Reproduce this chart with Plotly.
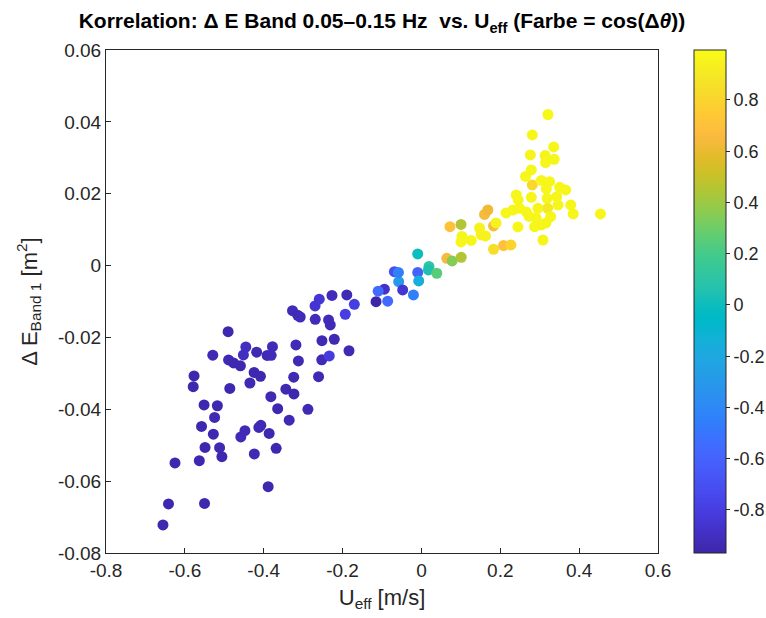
import plotly.graph_objects as go

# U_eff [m/s]
u_eff = [
    -0.6555, -0.6415, -0.5501, -0.625, -0.5633, -0.5488, -0.5119, -0.5061, -0.5277, -0.5577,
    -0.5246, -0.5513, -0.5175, -0.5767, -0.5788, -0.5292, -0.4903, -0.4891, -0.4764, -0.4591,
    -0.4860, -0.4454, -0.4515, -0.4179, -0.4243, -0.4083, -0.4350, -0.3887, -0.4238, -0.4581,
    -0.4477, -0.4123, -0.4073, -0.3862, -0.3684, -0.3819, -0.3646, -0.3354, -0.3913, -0.3778,
    -0.3811, -0.3183, -0.3120, -0.3239, -0.3438, -0.3234, -0.2879, -0.3270, -0.3138, -0.3074,
    -0.2693, -0.2609, -0.2528, -0.2523, -0.2210, -0.2337, -0.1837, -0.2355, -0.2312, -0.2698,
    -0.2591, -0.2269, -0.1893, -0.1702, -0.1931, -0.1151, -0.0940, -0.1098, -0.0856, -0.0577,
    -0.0475, -0.0203, -0.0686, -0.0584, -0.0094, -0.0069, -0.0094, 0.0191, 0.0178, 0.0389,
    0.0643, 0.0780, 0.1009, 0.0724, 0.1004,
    0.1029, 0.1004, 0.1263, 0.1474, 0.1517, 0.1626, 0.1829, 0.1893, 0.1601, 0.1684,
    0.1829, 0.2083, 0.2269, 0.2147, 0.2320, 0.2447, 0.2406, 0.2452, 0.2490, 0.2660,
    0.2731, 0.2909, 0.2787, 0.2812, 0.2642, 0.2787, 0.2762, 0.2812, 0.3209, 0.3354,
    0.3138, 0.3366, 0.3150, 0.3041, 0.3252, 0.3168, 0.3506, 0.3659, 0.3189, 0.3430,
    0.3463, 0.3786, 0.3201, 0.3849, 0.3277, 0.3041, 0.3158, 0.3082, 0.4540, 0.2871,
    0.2955,
]

# Delta E Band 1 [m^2]
delta_e = [
    -0.07220, -0.06635, -0.06621, -0.05494, -0.05430, -0.05063, -0.05068, -0.05319, -0.04692, -0.04478,
    -0.04228, -0.03880, -0.03902, -0.03073, -0.03370, -0.02494, -0.01840, -0.02627, -0.02711, -0.02789,
    -0.03421, -0.02266, -0.02488, -0.02410, -0.02975, -0.03081, -0.03268, -0.06154, -0.05244, -0.04770,
    -0.04595, -0.04506, -0.04445, -0.04673, -0.05085, -0.03649, -0.03983, -0.04303, -0.02502, -0.02257,
    -0.02497, -0.02210, -0.02655, -0.03106, -0.03440, -0.03574, -0.04000, -0.01255, -0.01383, -0.01431,
    -0.01495, -0.03092, -0.02622, -0.02090, -0.02051, -0.02516, -0.02371, -0.01514, -0.01653, -0.01124,
    -0.00935, -0.00832, -0.00818, -0.01077, -0.01355, -0.01005, -0.00657, -0.00712, -0.00991, -0.00448,
    -0.00679, -0.00818, -0.00170, -0.00192, -0.00192, -0.00429, 0.00323, -0.00025, -0.00122, -0.00214,
    0.00203, 0.00128, 0.00231, 0.01083, 0.01144,
    0.00810, 0.00657, 0.00699, 0.01047, 0.00852, 0.00824, 0.01102, 0.01186, 0.01422, 0.01547,
    0.00454, 0.00559, 0.00573, 0.01464, 0.01547, 0.01074, 0.01965, 0.01826, 0.01595, 0.01492,
    0.01367, 0.01325, 0.01901, 0.02243, 0.02480, 0.02661, 0.03078, 0.03635, 0.04205, 0.03301,
    0.03064, 0.02959, 0.02869, 0.02369, 0.02335, 0.02137, 0.02179, 0.02104, 0.01873, 0.01918,
    0.01687, 0.01687, 0.01595, 0.01436, 0.01361, 0.01130, 0.01186, 0.00712, 0.01436, 0.01083,
    0.01595,
]

# cos(Delta theta)
cos_dtheta = [
    -0.95, -0.95, -0.95, -0.95, -0.95, -0.95, -0.94, -0.95, -0.95, -0.95,
    -0.94, -0.95, -0.95, -0.95, -0.95, -0.94, -0.95, -0.94, -0.95, -0.95,
    -0.95, -0.90, -0.90, -0.94, -0.95, -0.95, -0.94, -0.95, -0.94, -0.93,
    -0.93, -0.94, -0.93, -0.95, -0.95, -0.94, -0.95, -0.94, -0.93, -0.93,
    -0.92, -0.93, -0.94, -0.94, -0.94, -0.95, -0.94, -0.92, -0.93, -0.92,
    -0.92, -0.94, -0.93, -0.94, -0.94, -0.82, -0.93, -0.92, -0.93, -0.86,
    -0.85, -0.92, -0.93, -0.80, -0.80, -0.97, -0.88, -0.55, -0.55, -0.30,
    -0.85, -0.45, -0.72, -0.45, -0.60, -0.15, 0.00, 0.10, 0.05, 0.25,
    0.65, 0.35, 0.45, 0.70, 0.45,
    0.97, 0.97, 0.97, 0.95, 0.95, 0.95, 0.65, 0.95, 0.65, 0.62,
    0.85, 0.70, 0.80, 0.97, 0.97, 0.97, 0.97, 0.97, 0.97, 0.97,
    0.97, 0.97, 0.97, 0.82, 0.97, 0.97, 0.96, 0.97, 0.98, 0.97,
    0.96, 0.97, 0.97, 0.97, 0.97, 0.97, 0.97, 0.97, 0.97, 0.97,
    0.97, 0.97, 0.90, 0.97, 0.97, 0.97, 0.97, 0.96, 0.97, 0.97,
    0.97,
]

x_ticks = [-0.8, -0.6, -0.4, -0.2, 0, 0.2, 0.4, 0.6]
x_tick_labels = ["-0.8", "-0.6", "-0.4", "-0.2", "0", "0.2", "0.4", "0.6"]
y_ticks = [-0.08, -0.06, -0.04, -0.02, 0, 0.02, 0.04, 0.06]
y_tick_labels = ["-0.08", "-0.06", "-0.04", "-0.02", "0", "0.02", "0.04", "0.06"]
c_ticks = [-0.8, -0.6, -0.4, -0.2, 0, 0.2, 0.4, 0.6, 0.8]
c_tick_labels = ["-0.8", "-0.6", "-0.4", "-0.2", "0", "0.2", "0.4", "0.6", "0.8"]
c_range = [-0.968, 0.995]

parula_rgb = [
    (0.2422, 0.1504, 0.6603), (0.2504, 0.1650, 0.7076), (0.2578, 0.1818, 0.7511), (0.2647, 0.1978, 0.7952),
    (0.2706, 0.2147, 0.8364), (0.2751, 0.2342, 0.8710), (0.2783, 0.2559, 0.8991), (0.2803, 0.2782, 0.9221),
    (0.2813, 0.3006, 0.9414), (0.2810, 0.3228, 0.9579), (0.2795, 0.3447, 0.9717), (0.2760, 0.3667, 0.9829),
    (0.2699, 0.3892, 0.9906), (0.2602, 0.4123, 0.9952), (0.2440, 0.4358, 0.9988), (0.2206, 0.4603, 0.9973),
    (0.1963, 0.4847, 0.9892), (0.1834, 0.5074, 0.9798), (0.1786, 0.5289, 0.9682), (0.1764, 0.5499, 0.9520),
    (0.1687, 0.5703, 0.9359), (0.1540, 0.5902, 0.9218), (0.1460, 0.6091, 0.9079), (0.1380, 0.6276, 0.8973),
    (0.1248, 0.6459, 0.8883), (0.1113, 0.6635, 0.8763), (0.0952, 0.6798, 0.8598), (0.0689, 0.6948, 0.8394),
    (0.0297, 0.7082, 0.8163), (0.0036, 0.7203, 0.7917), (0.0067, 0.7312, 0.7660), (0.0433, 0.7411, 0.7394),
    (0.0964, 0.7500, 0.7120), (0.1408, 0.7584, 0.6842), (0.1717, 0.7670, 0.6554), (0.1938, 0.7758, 0.6251),
    (0.2161, 0.7843, 0.5923), (0.2470, 0.7918, 0.5567), (0.2906, 0.7973, 0.5188), (0.3406, 0.8008, 0.4789),
    (0.3909, 0.8029, 0.4354), (0.4456, 0.8024, 0.3909), (0.5044, 0.7993, 0.3480), (0.5616, 0.7942, 0.3045),
    (0.6174, 0.7876, 0.2612), (0.6720, 0.7793, 0.2227), (0.7242, 0.7698, 0.1910), (0.7738, 0.7598, 0.1646),
    (0.8203, 0.7498, 0.1535), (0.8634, 0.7406, 0.1596), (0.9035, 0.7330, 0.1774), (0.9393, 0.7288, 0.2100),
    (0.9728, 0.7298, 0.2394), (0.9956, 0.7434, 0.2371), (0.9970, 0.7659, 0.2199), (0.9952, 0.7893, 0.2028),
    (0.9892, 0.8136, 0.1885), (0.9786, 0.8386, 0.1766), (0.9676, 0.8639, 0.1643), (0.9610, 0.8890, 0.1537),
    (0.9597, 0.9135, 0.1423), (0.9628, 0.9373, 0.1265), (0.9691, 0.9606, 0.1064), (0.9769, 0.9839, 0.0805),
]
n = len(parula_rgb)
parula = [[i / (n - 1), "rgb(%d,%d,%d)" % (round(r * 255), round(g * 255), round(b * 255))]
          for i, (r, g, b) in enumerate(parula_rgb)]

FONT = "Liberation Sans, Arial, Helvetica, sans-serif"
AX = "#262626"
TICK = 19

fig = go.Figure(go.Scatter(
    x=u_eff, y=delta_e, mode="markers",
    marker=dict(
        size=11, color=cos_dtheta, colorscale=parula,
        cmin=c_range[0], cmax=c_range[1], line=dict(width=0),
        colorbar=dict(
            x=1.0652, xanchor="left", y=0.5, yanchor="middle",
            len=1.0, lenmode="fraction", thickness=32, thicknessmode="pixels",
            outlinewidth=1, outlinecolor=AX,
            tickmode="array", tickvals=c_ticks, ticktext=c_tick_labels,
            ticks="outside", ticklen=4, tickcolor=AX,
            tickfont=dict(family=FONT, size=18, color=AX),
            xpad=0, ypad=0,
        ),
    ),
    showlegend=False,
))

fig.update_layout(
    width=766, height=618,
    margin=dict(l=106, r=108, t=50, b=65, autoexpand=False),
    paper_bgcolor="white", plot_bgcolor="white",
    font=dict(family=FONT, color=AX),
    title=dict(
        text="<b>Korrelation: Δ E Band 0.05–0.15 Hz  vs. U<sub>eff</sub> (Farbe = cos(Δ<i>θ</i>))</b>",
        x=0.5, xref="paper", xanchor="center",
        y=1 - 21 / 618, yref="container", yanchor="middle",
        font=dict(family=FONT, size=21, color="black"),
    ),
    xaxis=dict(
        range=[-0.8, 0.6], tickmode="array", tickvals=x_ticks, ticktext=x_tick_labels,
        showline=True, mirror=True, linecolor=AX, linewidth=1,
        ticks="inside", ticklen=5, tickcolor=AX, showgrid=False, zeroline=False,
        tickfont=dict(family=FONT, size=TICK, color=AX),
        title=dict(text="U<sub>eff</sub> [m/s]", font=dict(family=FONT, size=22, color=AX), standoff=9),
    ),
    yaxis=dict(
        range=[-0.08, 0.06], tickmode="array", tickvals=y_ticks, ticktext=y_tick_labels,
        showline=True, mirror=True, linecolor=AX, linewidth=1,
        ticks="inside", ticklen=5, tickcolor=AX, showgrid=False, zeroline=False,
        tickfont=dict(family=FONT, size=TICK, color=AX),
        title=dict(text="Δ E<sub>Band 1</sub> [m<sup>2</sup>]", font=dict(family=FONT, size=22, color=AX), standoff=14),
    ),
)

fig.write_html("out.html")
